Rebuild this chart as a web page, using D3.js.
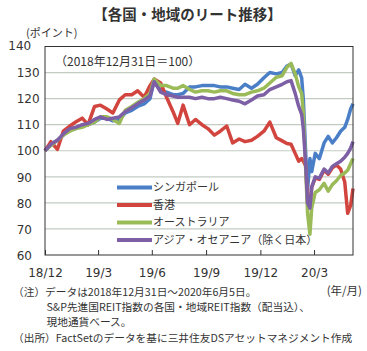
<!DOCTYPE html>
<html>
<head>
<meta charset="utf-8">
<script src="https://cdn.jsdelivr.net/npm/d3@7"></script>
<style>
  html, body { margin: 0; padding: 0; background: #fff; }
  svg { display: block; }
  text { fill: #333; }
</style>
</head>
<body>
<div id="vis"></div>
<script>
// 各国・地域のリート推移 (2018/12/31 = 100)
const width = 367, height = 351;
const JP = "'Noto Sans CJK JP', 'Noto Sans', sans-serif";
const NUM = "'DejaVu Sans', sans-serif";

// 日付（共通）
const dates = [
  "2018-12-31","2019-01-10","2019-01-21","2019-01-31","2019-02-11","2019-02-21","2019-03-04","2019-03-14",
  "2019-03-25","2019-04-04","2019-04-15","2019-04-25","2019-05-06","2019-05-16","2019-05-27","2019-06-06",
  "2019-06-17","2019-06-27","2019-07-04","2019-07-15","2019-07-25","2019-08-05","2019-08-13","2019-08-22",
  "2019-09-02","2019-09-12","2019-09-23","2019-10-03","2019-10-14","2019-10-24","2019-11-04","2019-11-14",
  "2019-11-25","2019-12-05","2019-12-16","2019-12-26","2020-01-06","2020-01-16","2020-01-27","2020-02-06",
  "2020-02-14","2020-02-21","2020-02-28","2020-03-05","2020-03-10","2020-03-13","2020-03-17","2020-03-20",
  "2020-03-24","2020-03-27","2020-04-02","2020-04-09","2020-04-17","2020-04-24","2020-05-01","2020-05-08",
  "2020-05-15","2020-05-22","2020-05-27","2020-06-01","2020-06-05"
];

// 系列（目分量で読み取り）
const singapore = [
  100,102.5,104,106,108,108.5,109.5,110,111,112.5,112.5,111.5,112,114.5,115.5,117,
  118,120,127,123,122.5,121.5,121.5,122,124.5,124.5,125,125,125,124.5,124.5,124,
  123.5,125.5,124,125.5,128,130,129.5,130,132.5,133.3,128.8,131,128,119,98,85,
  97,92,99,97,103,105.5,103,105,107.5,109,112,116,118
];
const hongkong = [
  100,103.5,100.5,107.5,109.5,111,112.5,110,117,117.5,116,114.5,119.5,121.5,121.5,123,
  120.5,125,127.5,126,120.5,115,110.5,117.5,110,112,110,108.5,106,107.5,109.5,103,
  104.5,103.5,104,105.5,107.5,111,105,103.8,102.8,102.5,99,96,97,96,94,81,
  79,86,89.5,89,92.5,91,93.5,94.5,93,88,76,79,85.5
];
const australia = [
  100,102,104,106,107.5,108.5,109,110,111,113,113,112,110.5,115.5,117,118.5,
  120,122,127.5,125,125,124,124,125,123.5,122.5,123,123,122.5,123,123,122,
  121.5,121.5,122.5,123,124,126,128.2,128.8,132,133.5,129.5,124.5,122,114,92,76,
  68,78,84,85,87.5,84.5,87,88.5,90.5,91.5,92.5,95,97
];
const asiaOceania = [
  100,102.5,104,106.5,108.5,109,110,110.5,112,113,112,112.5,113,115,116.5,118,
  119.5,121,126.5,122.5,121.5,121,120.5,120.5,120.5,120,120.5,120,120,120.5,120,119.5,
  119,118,119.5,121,121.5,123.5,124.5,125.5,126.5,126.9,122,117,114,108,94,80,
  78,86,90,89.5,93,91.5,94,95,96,97.5,99,101,103.5
];

const seriesNames = ["シンガポール", "香港", "オーストラリア", "アジア・オセアニア（除く日本）"];
const seriesColors = ["#4a7fc8", "#d2453e", "#9bbb59", "#7d5fa6"];

const xTickDates = ["2018-12-31","2019-03-31","2019-06-30","2019-09-30","2019-12-31","2020-03-31"];
const xTickLabels = ["18/12","19/3","19/6","19/9","19/12","20/3"];
const yTicks = [60,70,80,90,100,110,120,130,140];

const notes = [
  "（注）データは2018年12月31日～2020年6月5日。",
  "S&P先進国REIT指数の各国・地域REIT指数（配当込）、",
  "現地通貨ベース。",
  "（出所）FactSetのデータを基に三井住友DSアセットマネジメント作成"
];

const parse = d3.timeParse("%Y-%m-%d");
const margin = {left: 45, right: 14, top: 46.5, bottom: 96};

const x = d3.scaleTime()
  .domain([parse(dates[0]), parse(dates[dates.length-1])])
  .range([margin.left, width - margin.right]);
const y = d3.scaleLinear().domain([60, 140]).range([height - margin.bottom, margin.top]);

const svg = d3.select("#vis").append("svg")
  .attr("width", width).attr("height", height);

// タイトル
svg.append("text")
  .attr("x", 187.5).attr("y", 15).attr("dy", "0.35em")
  .attr("text-anchor", "middle")
  .attr("font-family", JP).attr("font-size", 14.5).attr("font-weight", "bold")
  .text("【各国・地域のリート推移】");

svg.append("text")
  .attr("x", 26).attr("y", 33.5).attr("dy", "0.35em")
  .attr("font-family", JP).attr("font-size", 11)
  .text("(ポイント)");

// グリッド
svg.append("g").selectAll("line")
  .data(yTicks.filter(d => d > 60 && d < 140))
  .join("line")
  .attr("x1", margin.left).attr("x2", width - margin.right)
  .attr("y1", d => y(d)).attr("y2", d => y(d))
  .attr("stroke", "#c3cbc3").attr("stroke-width", 1.2);

// Y軸ラベル（左揃え）
const yAxis = svg.append("g")
  .attr("transform", `translate(${margin.left},0)`)
  .call(d3.axisLeft(y).tickValues(yTicks).tickSize(0).tickPadding(0));
yAxis.select(".domain").remove();
yAxis.selectAll("text")
  .attr("font-family", NUM).attr("font-size", 12).attr("fill", "#333")
  .attr("text-anchor", "start")
  .attr("x", d => d === 140 ? 8.3 - margin.left : 16.7 - margin.left)
  .attr("dy", d => d === 140 ? "0.25em" : "0.35em");

// X軸（内向き目盛）
const xAxis = svg.append("g")
  .attr("transform", `translate(0,${y(60)})`)
  .call(d3.axisBottom(x)
    .tickValues(xTickDates.map(parse))
    .tickFormat((d, i) => xTickLabels[i])
    .tickSizeInner(-5).tickSizeOuter(0).tickPadding(13));
xAxis.select(".domain").remove();
xAxis.selectAll("line").attr("stroke", "#333");
xAxis.selectAll("text")
  .attr("font-family", NUM).attr("font-size", 12).attr("fill", "#333");

// 系列
const line = d3.line()
  .x((d, i) => x(parse(dates[i])))
  .y(d => y(d));

const allSeries = [singapore, hongkong, australia, asiaOceania];
svg.append("g").selectAll("path")
  .data(allSeries)
  .join("path")
  .attr("d", line)
  .attr("fill", "none")
  .attr("stroke", (d, i) => seriesColors[i])
  .attr("stroke-width", 3.5)
  .attr("stroke-linejoin", "round");

// 枠
svg.append("rect")
  .attr("x", margin.left).attr("y", margin.top)
  .attr("width", width - margin.right - margin.left)
  .attr("height", y(60) - margin.top)
  .attr("fill", "none").attr("stroke", "#333").attr("stroke-width", 1);

svg.append("text")
  .attr("x", 55).attr("y", 62).attr("dy", "0.35em")
  .attr("font-family", JP).attr("font-size", 12)
  .text("（2018年12月31日＝100）");

// 凡例
const lg = svg.append("g").selectAll("g")
  .data(seriesNames)
  .join("g")
  .attr("transform", (d, i) => `translate(117,${187.5 + i * 17.5})`);
lg.append("line")
  .attr("x1", 0).attr("x2", 35)
  .attr("stroke", (d, i) => seriesColors[i])
  .attr("stroke-width", 4);
lg.append("text")
  .attr("x", 36).attr("dy", "0.35em")
  .attr("font-family", JP).attr("font-size", 11)
  .text(d => d);

// 注記
svg.append("text")
  .attr("x", 362).attr("y", 291).attr("dy", "0.35em")
  .attr("text-anchor", "end")
  .attr("font-family", JP).attr("font-size", 11.5)
  .text("(年/月)");

const noteX = [13, 46.5, 46.5, 13];
const noteY = [292, 307, 322, 338];
svg.append("g").selectAll("text")
  .data(notes)
  .join("text")
  .attr("x", (d, i) => noteX[i]).attr("y", (d, i) => noteY[i]).attr("dy", "0.35em")
  .attr("font-family", JP).attr("font-size", 10.7)
  .text(d => d);
</script>
</body>
</html>
